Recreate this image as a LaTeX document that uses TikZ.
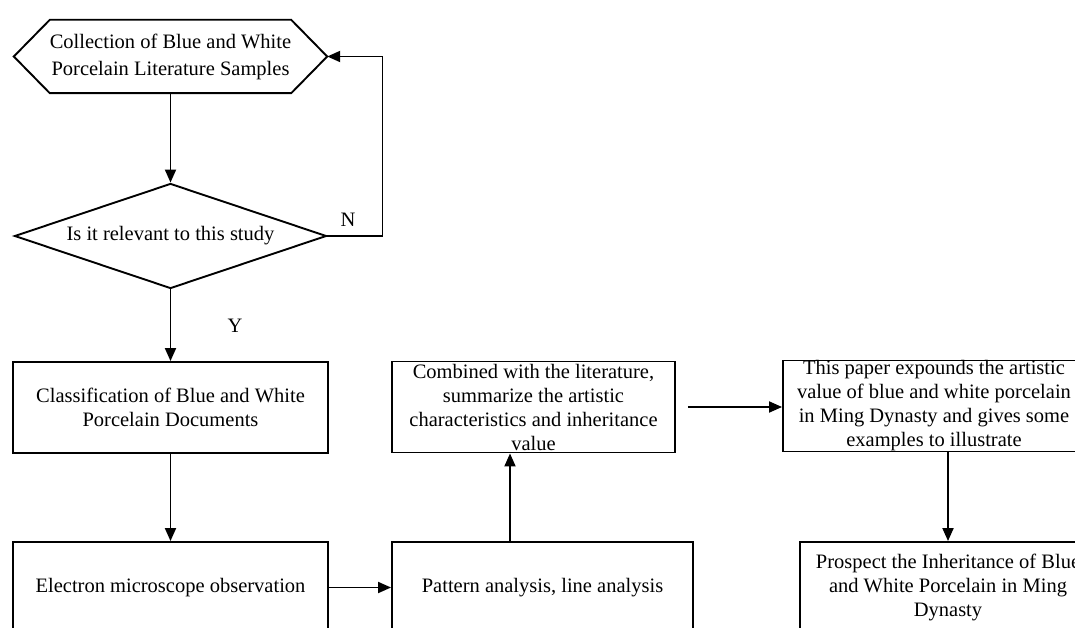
\documentclass[tikz,border=0pt]{standalone}
\usepackage{fontspec}
\setmainfont{Liberation Serif}
\usetikzlibrary{
  arrows.meta,      % 实心三角箭头
  calc,             % 坐标计算
  shapes.geometric  % 菱形判断框
}
\tikzset{
  flow/.style={
    -{Triangle[length=13pt,width=11pt]},
    line width=1.9pt
  },
  step box/.style={
    draw,
    rectangle,
    line width=1.9pt,
    minimum height=91pt,
    inner sep=0pt,
    align=center,
    font=\fontsize{20.5pt}{24pt}\selectfont
  },
  judge box/.style={
    draw,
    diamond,
    line width=1.9pt,
    aspect=2.97,
    minimum width=312pt,
    minimum height=105pt,
    inner sep=0pt,
    font=\fontsize{20.5pt}{24pt}\selectfont
  },
  branch tag/.style={
    font=\fontsize{20.5pt}{24pt}\selectfont
  }
}

\begin{document}
\begin{tikzpicture}[x=1pt, y=-1pt] % 以像素为单位，y 轴向下
  \useasboundingbox (0,0) rectangle (1075,628); % 固定画面大小

  % 六边形起始框
  \node[minimum width=313pt, minimum height=73pt, inner sep=0pt, align=center,
        font=\fontsize{20.5pt}{27pt}\selectfont] (collect) at (170.5,56.5)
        {Collection of Blue and White\\Porcelain Literature Samples}; % 文献收集
  \draw[line width=1.9pt] (collect.west) -- ([xshift=36pt]collect.north west)
    -- ([xshift=-36pt]collect.north east) -- (collect.east)
    -- ([xshift=-36pt]collect.south east) -- ([xshift=36pt]collect.south west) -- cycle; % 画出六边形轮廓

  % 判断框
  \node[judge box] (relevant) at (170.5,236) {Is it relevant to this study}; % 是否相关

  % 左列两个矩形框
  \node[step box, minimum width=315pt] (classify) at (170.5,407.5)
    {Classification of Blue and White\\Porcelain Documents}; % 文献分类
  \node[step box, minimum width=315pt] (observe) at (170.5,587.5)
    {Electron microscope observation}; % 电镜观察

  % 中列两个矩形框
  \node[step box, minimum width=301pt] (pattern) at (542.5,587.5)
    {Pattern analysis, line analysis}; % 纹样分析
  \node[step box, minimum width=283pt] (combine) at (533.5,407)
    {Combined with the literature,\\summarize the artistic\\characteristics and inheritance\\value}; % 归纳特征

  % 右列两个矩形框（右侧超出画面）
  \node[step box, minimum width=302pt] (expound) at (934,406)
    {This paper expounds the artistic\\value of blue and white porcelain\\in Ming Dynasty and gives some\\examples to illustrate}; % 阐述价值
  \node[step box, minimum width=296pt] (prospect) at (948,587.5)
    {Prospect the Inheritance of Blue\\and White Porcelain in Ming\\Dynasty}; % 展望传承

  % 连接箭头
  \draw[flow] (collect.south) -- (relevant.north); % 收集 -> 判断
  \draw[flow] (relevant.east) -- ++(55,0) |- (collect.east); % 不相关则返回
  \draw[flow] (relevant.south) -- (classify.north); % 相关 -> 分类
  \draw[flow] (classify.south) -- (observe.north); % 分类 -> 观察
  \draw[flow] (observe.east) -- (pattern.west); % 观察 -> 分析
  \draw[flow] ([xshift=-32.5pt]pattern.north) -- ([xshift=-32.5pt]pattern.north |- combine.south); % 分析 -> 归纳
  \draw[flow, shorten <=12pt] (combine.east) -- (combine.east -| expound.west); % 归纳 -> 阐述
  \draw[flow] (prospect.north |- expound.south) -- (prospect.north); % 阐述 -> 展望

  % 分支标注
  \node[branch tag] (no) at (348,220) {N}; % 否
  \node[branch tag] (yes) at (235,326) {Y}; % 是

\end{tikzpicture}
\end{document}
